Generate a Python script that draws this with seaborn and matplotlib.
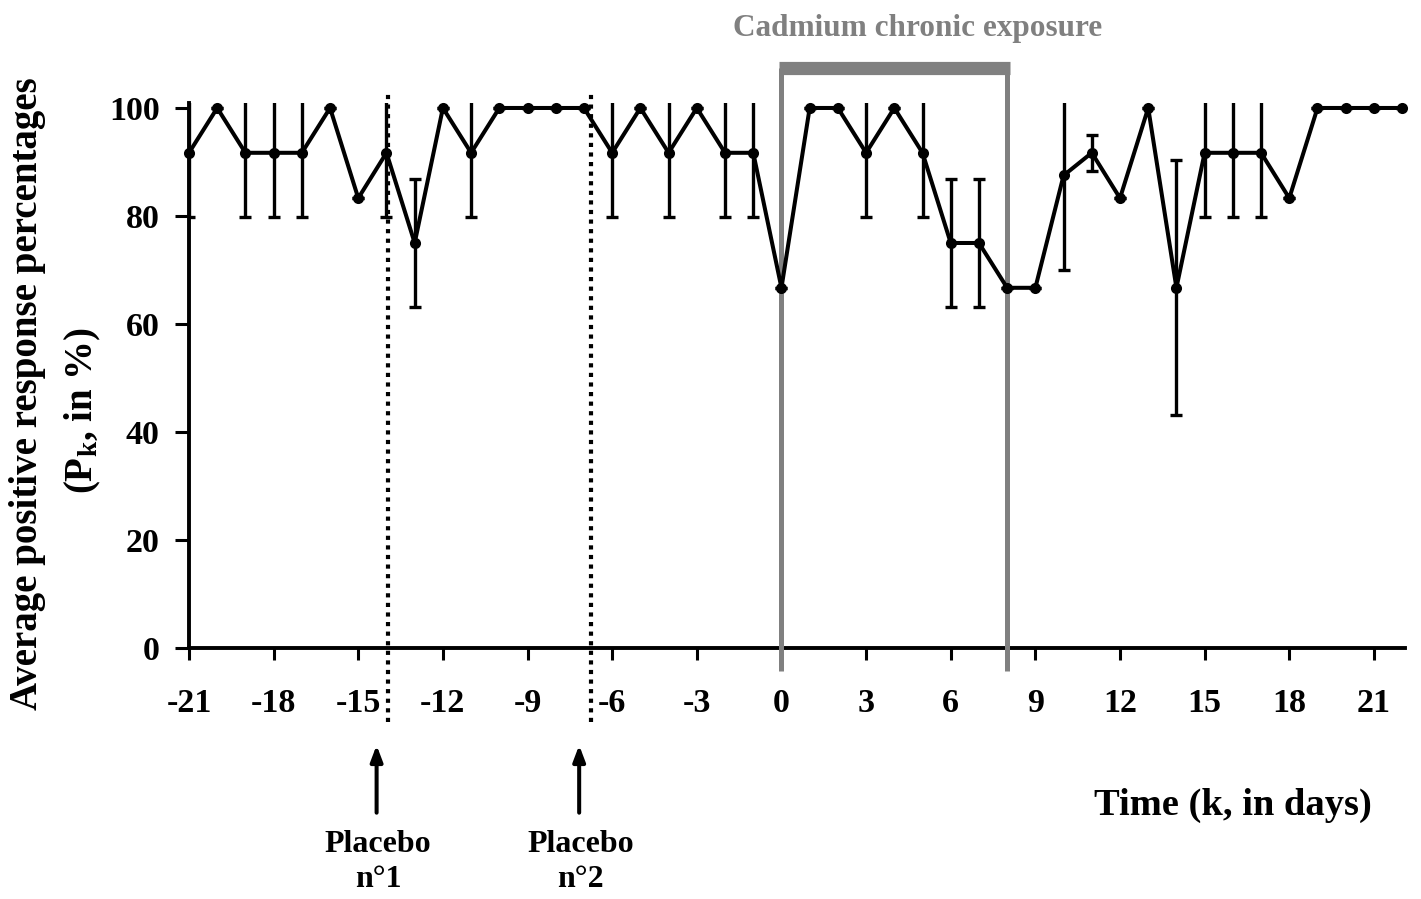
import numpy as np
import matplotlib
matplotlib.use("Agg")
import matplotlib.pyplot as plt
import seaborn as sns

# Daily positive response percentages (P_k) with their error bars
days = list(range(-21, 23))
pk = [91.7, 100, 91.7, 91.7, 91.7, 100, 83.3, 91.7, 75, 100, 91.7,
      100, 100, 100, 100, 91.7, 100, 91.7, 100, 91.7, 91.7,
      66.7, 100, 100, 91.7, 100, 91.7, 75, 75, 66.7, 66.7,
      87.5, 91.7, 83.3, 100, 66.7, 91.7, 91.7, 91.7, 83.3, 100, 100, 100, 100]
err = [11.8, 0, 11.8, 11.8, 11.8, 0, 0, 11.8, 11.8, 0, 11.8,
       0, 0, 0, 0, 11.8, 0, 11.8, 0, 11.8, 11.8,
       0, 0, 0, 11.8, 0, 11.8, 11.8, 11.8, 0, 0,
       17.5, 3.3, 0, 0, 23.6, 11.8, 11.8, 11.8, 0, 0, 0, 0, 0]

xticks = list(range(-21, 22, 3))
yticks = [0, 20, 40, 60, 80, 100]

placebo_days = [-13.95, -6.75]
placebo_arrows = [-14.35, -7.17]
placebo_labels = ["n°1", "n°2"]
exposure_start, exposure_end = 0, 8

sns.set_theme(style="white")
plt.rcParams['font.family'] = ['Liberation Serif', 'DejaVu Serif']
plt.rcParams['font.weight'] = 'bold'
plt.rcParams['text.color'] = 'black'
plt.rcParams['axes.labelcolor'] = 'black'
plt.rcParams['xtick.color'] = 'black'
plt.rcParams['ytick.color'] = 'black'
plt.rcParams['mathtext.fontset'] = 'custom'
plt.rcParams['mathtext.rm'] = 'Liberation Serif:bold'
plt.rcParams['mathtext.it'] = 'Liberation Serif:bold'
plt.rcParams['mathtext.bf'] = 'Liberation Serif:bold'

fig = plt.figure(figsize=(14.21, 8.99), dpi=100)
ax = fig.add_axes([0.133, 0.2792, 0.8557, 0.6067])

# error bars (clipped at the top of the plot area like the original)
ax.errorbar(days, pk, yerr=err, fmt='none', ecolor='black', elinewidth=2.4,
            capsize=4.3, capthick=2.4, zorder=4)
sns.lineplot(x=days, y=pk, marker='o', color='black', linewidth=2.9,
             markersize=8, markeredgewidth=0, ax=ax, clip_on=False, zorder=5)

ax.set_xlim(-21, 22.1)
ax.set_ylim(0, 101)
ax.set_xticks(xticks)
ax.set_yticks(yticks)
ax.set_xticklabels([str(t) for t in xticks])
ax.tick_params(axis='x', direction='out', length=8.5, width=2.2, pad=20,
               labelsize=24.5, bottom=True, color='black', labelcolor='black')
ax.tick_params(axis='y', direction='out', length=10, width=2.2, pad=11,
               labelsize=24.5, left=True, color='black', labelcolor='black')
for lab in ax.get_xticklabels() + ax.get_yticklabels():
    lab.set_fontweight('bold')
for side in ['top', 'right']:
    ax.spines[side].set_visible(False)
for side in ['left', 'bottom']:
    ax.spines[side].set_linewidth(2.8)
    ax.spines[side].set_color('black')
ax.grid(False)
ax.set_xlabel('')
ax.set_ylabel('')

# placebo markers: dotted vertical lines, arrows and labels
for xd, xa, lab in zip(placebo_days, placebo_arrows, placebo_labels):
    ax.plot([xd, xd], [-13.7, 103], color='black', linewidth=3.0,
            linestyle=(0, (1, 1.3)), clip_on=False, zorder=3)
    ax.annotate('', xy=(xa, -18), xytext=(xa, -30.5),
                arrowprops=dict(arrowstyle='-|>,head_length=0.95,head_width=0.36',
                                color='black', lw=2.9, shrinkA=0, shrinkB=0,
                                mutation_scale=10),
                annotation_clip=False)
    ax.text(xa + 0.05, -37.8, 'Placebo', ha='center', va='baseline',
            fontsize=23, fontweight='bold')
    ax.text(xa + 0.05, -44.3, lab, ha='center', va='baseline',
            fontsize=23, fontweight='bold')

# cadmium exposure box
gray = '#808080'
for xe in [exposure_start, exposure_end]:
    ax.plot([xe, xe], [-4.3, 107.4], color=gray, linewidth=3.6,
            solid_capstyle='butt', clip_on=False, zorder=3)
ax.plot([exposure_start - 0.09, exposure_end + 0.09], [107.4, 107.4], color=gray,
        linewidth=9.5, solid_capstyle='butt', clip_on=False, zorder=3)
ax.text(4.84, 114.8, 'Cadmium chronic exposure', ha='center', va='center',
        fontsize=22.5, fontweight='bold', color=gray)

ax.text(16.0, -30.9, 'Time (k, in days)', ha='center', va='baseline',
        fontsize=27.7, fontweight='bold')

fig.text(28 / 1421, 1 - 394 / 899, 'Average positive response percentages',
         rotation=90, ha='center', va='center', fontsize=28, fontweight='bold')
fig.text(83 / 1421, 1 - 411 / 899, '(P$_{k}$, in %)',
         rotation=90, ha='center', va='center', fontsize=28, fontweight='bold')

fig.savefig('out.png', dpi=100, facecolor='white')
plt.close(fig)
